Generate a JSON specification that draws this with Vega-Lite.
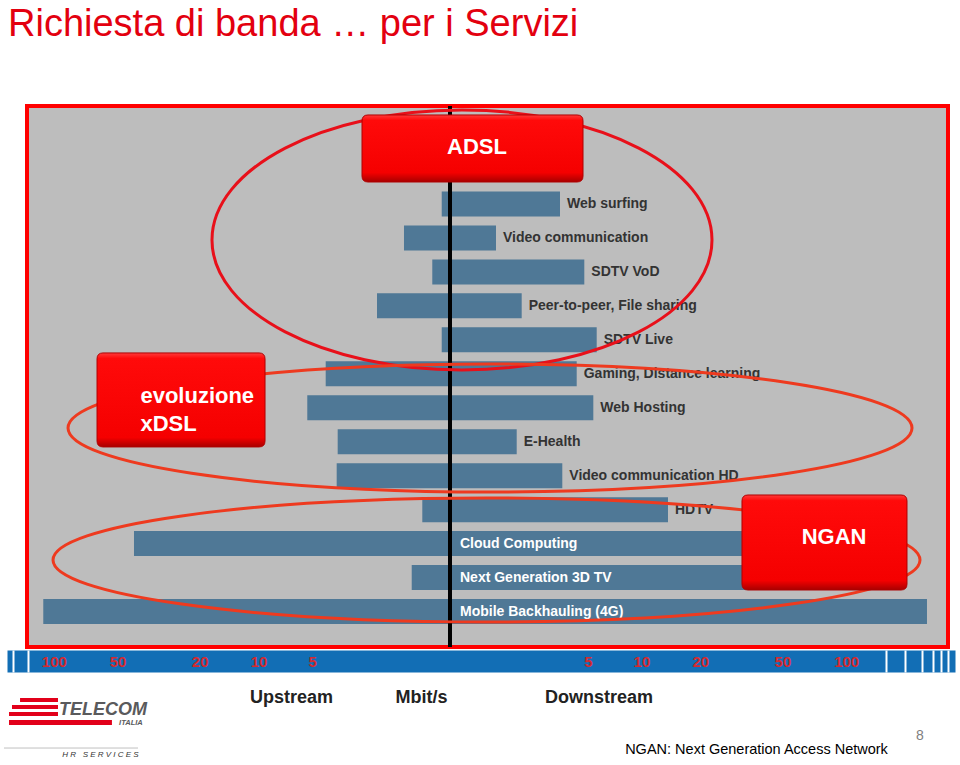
{
  "$schema": "https://vega.github.io/schema/vega-lite/v6.json",
  "width": 921,
  "height": 541,
  "autosize": "none",
  "padding": {"left": 27, "top": 106, "right": 12, "bottom": 118},
  "background": "white",
  "title": {
    "text": "Richiesta di banda … per i Servizi",
    "anchor": "start",
    "frame": "group",
    "offset": 60,
    "dx": -19,
    "font": "Liberation Sans",
    "fontSize": 38,
    "fontWeight": "normal",
    "color": "#e3000f"
  },
  "config": {
    "view": {"fill": "#bdbdbd", "stroke": "#ff0000", "strokeWidth": 4},
    "font": "Liberation Sans"
  },
  "data": {
    "values": [
      {"service": "Web surfing", "up": -0.138, "down": 3.334},
      {"service": "Video communication", "up": -0.947, "down": 0.947},
      {"service": "SDTV VoD", "up": -0.311, "down": 4.76},
      {"service": "Peer-to-peer, File sharing", "up": -1.761, "down": 1.716},
      {"service": "SDTV Live", "up": -0.138, "down": 5.643},
      {"service": "Gaming, Distance learning", "up": -4.128, "down": 4.274},
      {"service": "Web Hosting", "up": -5.346, "down": 5.39},
      {"service": "E-Health", "up": -3.454, "down": 1.55},
      {"service": "Video communication HD", "up": -3.507, "down": 3.454},
      {"service": "HDTV", "up": -0.514, "down": 13.75},
      {"service": "Cloud Computing", "up": -41.76, "down": 104.2},
      {"service": "Next Generation 3D TV", "up": -0.754, "down": 104.2},
      {"service": "Mobile Backhauling (4G)", "up": -112.05, "down": 238.3}
    ]
  },
  "resolve": {"axis": {"x": "independent"}},
  "layer": [
    {
      "mark": {"type": "bar", "color": "#4f7896"},
      "encoding": {
        "y": {
          "field": "service", "type": "nominal", "sort": null,
          "scale": {
            "domain": ["Web surfing", "Video communication", "SDTV VoD", "Peer-to-peer, File sharing", "SDTV Live", "Gaming, Distance learning", "Web Hosting", "E-Health", "Video communication HD", "HDTV", "Cloud Computing", "Next Generation 3D TV", "Mobile Backhauling (4G)"],
            "range": [81, 522.5],
            "paddingInner": 0.264,
            "paddingOuter": 0.132
          },
          "axis": null
        },
        "x": {
          "field": "up", "type": "quantitative",
          "scale": {"type": "symlog", "constant": 1.5, "domain": [-165.54, 321.56], "range": [-20, 928], "nice": false, "zero": false},
          "axis": {
            "orient": "bottom", "offset": 14,
            "values": [-100, 100],
            "domain": true, "domainColor": "#126eb5", "domainWidth": 22,
            "ticks": false, "tickSize": 0, "grid": false, "labels": false,
            "title": null
          }
        },
        "x2": {"field": "down"}
      }
    },
    {
      "data": {"values": [{}]},
      "mark": {"type": "rule", "color": "#000000", "strokeWidth": 4},
      "encoding": {
        "x": {
          "datum": 0, "type": "quantitative",
          "axis": {
            "orient": "bottom", "offset": 50,
            "values": [-6.64, -0.542, 5.78],
            "labelExpr": "datum.value < -1 ? 'Upstream' : (datum.value < 0 ? 'Mbit/s' : 'Downstream')",
            "domain": false, "ticks": false, "tickSize": 0, "grid": false,
            "labelPadding": 0, "labelBaseline": "middle",
            "labelColor": "#222222", "labelFont": "Liberation Sans", "labelFontSize": 18, "labelFontWeight": "bold",
            "labelOverlap": false, "labelFlush": false, "labelBound": false,
            "title": null
          }
        }
      }
    },
    {
      "transform": [{"filter": {"not": {"field": "service", "oneOf": ["Cloud Computing", "Next Generation 3D TV", "Mobile Backhauling (4G)"]}}}],
      "mark": {"type": "text", "align": "left", "baseline": "middle", "dx": 7, "font": "Liberation Sans", "fontSize": 14, "fontWeight": "bold", "color": "#333333"},
      "encoding": {
        "y": {"field": "service", "type": "nominal", "axis": null},
        "x": {
          "field": "down", "type": "quantitative",
          "axis": {
            "orient": "bottom", "offset": 3,
            "values": [-155.2, -132.1, 153.5, 188.2, 225.9, 254.1, 276.8, 298.4],
            "domain": false, "labels": false, "ticks": true,
            "tickColor": "#ffffff", "tickSize": 22, "tickWidth": 2, "grid": false,
            "title": null
          }
        },
        "text": {"field": "service"}
      }
    },
    {
      "transform": [{"filter": {"field": "service", "oneOf": ["Cloud Computing", "Next Generation 3D TV", "Mobile Backhauling (4G)"]}}],
      "mark": {"type": "text", "align": "left", "baseline": "middle", "dx": 10, "font": "Liberation Sans", "fontSize": 14, "fontWeight": "bold", "color": "#ffffff"},
      "encoding": {
        "y": {"field": "service", "type": "nominal", "axis": null},
        "x": {
          "datum": 0, "type": "quantitative",
          "axis": {
            "orient": "bottom", "offset": 14, "zindex": 1,
            "values": [-100, -50, -20, -10, -5, 5, 10, 20, 50, 100],
            "labelExpr": "'' + abs(datum.value)",
            "domain": false, "ticks": false, "tickSize": 0, "grid": false,
            "labelPadding": 0, "labelBaseline": "middle",
            "labelColor": "#d42a30", "labelFont": "Liberation Sans", "labelFontSize": 15, "labelFontWeight": "bold",
            "labelOverlap": false, "labelFlush": false, "labelBound": false,
            "title": null
          }
        },
        "text": {"field": "service"}
      }
    },
    {
      "data": {"values": [{}]},
      "mark": {"type": "point", "shape": "M-1,0C-1,-0.2872 -0.5523,-0.52 0,-0.52C0.5523,-0.52 1,-0.2872 1,0C1,0.2872 0.5523,0.52 0,0.52C-0.5523,0.52 -1,0.2872 -1,0Z", "size": 250000, "filled": false, "stroke": "#e8101a", "strokeWidth": 3, "opacity": 1, "yOffset": 36},
      "encoding": {
        "x": {"datum": 0.204, "type": "quantitative", "axis": null},
        "y": {"datum": "Web surfing", "type": "nominal", "axis": null}
      }
    },
    {
      "data": {"values": [{}]},
      "mark": {"type": "point", "shape": "M-1,0C-1,-0.0838 -0.5523,-0.1517 0,-0.1517C0.5523,-0.1517 1,-0.0838 1,0C1,0.0838 0.5523,0.1517 0,0.1517C-0.5523,0.1517 -1,0.0838 -1,0Z", "size": 712336, "filled": false, "stroke": "#ee3a1f", "strokeWidth": 3, "opacity": 1, "yOffset": -13.7},
      "encoding": {
        "x": {"datum": 0.796, "type": "quantitative", "axis": null},
        "y": {"datum": "E-Health", "type": "nominal", "axis": null}
      }
    },
    {
      "data": {"values": [{}]},
      "mark": {"type": "point", "shape": "M-1,0C-1,-0.079 -0.5523,-0.143 0,-0.143C0.5523,-0.143 1,-0.079 1,0C1,0.079 0.5523,0.143 0,0.143C-0.5523,0.143 -1,0.079 -1,0Z", "size": 751689, "filled": false, "stroke": "#ee3a1f", "strokeWidth": 3, "opacity": 1, "yOffset": 16.4},
      "encoding": {
        "x": {"datum": 0.712, "type": "quantitative", "axis": null},
        "y": {"datum": "Cloud Computing", "type": "nominal", "axis": null}
      }
    },
    {
      "data": {"values": [{}]},
      "mark": {
        "type": "point",
        "shape": "M-1,-0.2492Q-1,-0.3032 -0.946,-0.3032L0.946,-0.3032Q1,-0.3032 1,-0.2492L1,0.2492Q1,0.3032 0.946,0.3032L-0.946,0.3032Q-1,0.3032 -1,0.2492Z",
        "size": 48841, "filled": true, "opacity": 1,
        "fill": {"gradient": "linear", "x1": 0, "y1": 0, "x2": 0, "y2": 1, "stops": [{"offset": 0, "color": "#ff3a3a"}, {"offset": 0.08, "color": "#ff0a0a"}, {"offset": 0.86, "color": "#f50000"}, {"offset": 1, "color": "#a80000"}]},
        "stroke": "#b00000", "strokeWidth": 1, "yOffset": -55.5
      },
      "encoding": {
        "x": {"datum": 0.406, "type": "quantitative", "axis": null},
        "y": {"datum": "Web surfing", "type": "nominal", "axis": null}
      }
    },
    {
      "data": {"values": [{}]},
      "mark": {
        "type": "point",
        "shape": "M-1,-0.4881Q-1,-0.5595 -0.9286,-0.5595L0.9286,-0.5595Q1,-0.5595 1,-0.4881L1,0.4881Q1,0.5595 0.9286,0.5595L-0.9286,0.5595Q-1,0.5595 -1,0.4881Z",
        "size": 28224, "filled": true, "opacity": 1,
        "fill": {"gradient": "linear", "x1": 0, "y1": 0, "x2": 0, "y2": 1, "stops": [{"offset": 0, "color": "#ff3a3a"}, {"offset": 0.06, "color": "#ff0a0a"}, {"offset": 0.9, "color": "#f50000"}, {"offset": 1, "color": "#a80000"}]},
        "stroke": "#b00000", "strokeWidth": 1, "yOffset": -7.8
      },
      "encoding": {
        "x": {"datum": -24.73, "type": "quantitative", "axis": null},
        "y": {"datum": "Web Hosting", "type": "nominal", "axis": null}
      }
    },
    {
      "data": {"values": [{}]},
      "mark": {
        "type": "point",
        "shape": "M-1,-0.5031Q-1,-0.5758 -0.9273,-0.5758L0.9273,-0.5758Q1,-0.5758 1,-0.5031L1,0.5031Q1,0.5758 0.9273,0.5758L-0.9273,0.5758Q-1,0.5758 -1,0.5031Z",
        "size": 27225, "filled": true, "opacity": 1,
        "fill": {"gradient": "linear", "x1": 0, "y1": 0, "x2": 0, "y2": 1, "stops": [{"offset": 0, "color": "#ff3a3a"}, {"offset": 0.06, "color": "#ff0a0a"}, {"offset": 0.9, "color": "#f50000"}, {"offset": 1, "color": "#a80000"}]},
        "stroke": "#b00000", "strokeWidth": 1, "yOffset": -1.1
      },
      "encoding": {
        "x": {"datum": 79.1, "type": "quantitative", "axis": null},
        "y": {"datum": "Cloud Computing", "type": "nominal", "axis": null}
      }
    },
    {
      "data": {"values": [{}]},
      "mark": {"type": "text", "text": "ADSL", "align": "center", "baseline": "middle", "font": "Liberation Sans", "fontSize": 22, "fontWeight": "bold", "color": "#ffffff", "yOffset": -57},
      "encoding": {
        "x": {"datum": 0.499, "type": "quantitative", "axis": null},
        "y": {"datum": "Web surfing", "type": "nominal", "axis": null}
      }
    },
    {
      "data": {"values": [{}]},
      "mark": {"type": "text", "text": ["evoluzione", "xDSL"], "lineHeight": 28, "align": "left", "baseline": "middle", "font": "Liberation Sans", "fontSize": 22, "fontWeight": "bold", "color": "#ffffff", "yOffset": -12},
      "encoding": {
        "x": {"datum": -38.9, "type": "quantitative", "axis": null},
        "y": {"datum": "Web Hosting", "type": "nominal", "axis": null}
      }
    },
    {
      "data": {"values": [{}]},
      "mark": {"type": "text", "text": "NGAN", "align": "center", "baseline": "middle", "font": "Liberation Sans", "fontSize": 22, "fontWeight": "bold", "color": "#ffffff", "yOffset": -6.6},
      "encoding": {
        "x": {"datum": 87.7, "type": "quantitative", "axis": null},
        "y": {"datum": "Cloud Computing", "type": "nominal", "axis": null}
      }
    },
    {
      "data": {"values": [{}]},
      "mark": {"type": "text", "text": "NGAN: Next Generation Access Network", "align": "center", "baseline": "middle", "font": "Liberation Sans", "fontSize": 14.5, "color": "#000000", "yOffset": 138.5},
      "encoding": {
        "x": {"datum": 37.6, "type": "quantitative", "axis": null},
        "y": {"datum": "Mobile Backhauling (4G)", "type": "nominal", "axis": null}
      }
    },
    {
      "data": {"values": [{}]},
      "mark": {"type": "text", "text": "8", "align": "center", "baseline": "middle", "font": "Liberation Sans", "fontSize": 14, "color": "#808080", "yOffset": 124.5},
      "encoding": {
        "x": {"datum": 221.1, "type": "quantitative", "axis": null},
        "y": {"datum": "Mobile Backhauling (4G)", "type": "nominal", "axis": null}
      }
    },
    {
      "data": {"values": [{}]},
      "mark": {"type": "rule", "color": "#e2001a", "strokeWidth": 4, "yOffset": 88.5},
      "encoding": {
        "x": {"datum": -143.9, "type": "quantitative", "axis": null},
        "x2": {"datum": -95.6},
        "y": {"datum": "Mobile Backhauling (4G)", "type": "nominal", "axis": null}
      }
    },
    {
      "data": {"values": [{}]},
      "mark": {"type": "rule", "color": "#e2001a", "strokeWidth": 4, "yOffset": 95.5},
      "encoding": {
        "x": {"datum": -156.9, "type": "quantitative", "axis": null},
        "x2": {"datum": -95.6},
        "y": {"datum": "Mobile Backhauling (4G)", "type": "nominal", "axis": null}
      }
    },
    {
      "data": {"values": [{}]},
      "mark": {"type": "rule", "color": "#e2001a", "strokeWidth": 4, "yOffset": 102.5},
      "encoding": {
        "x": {"datum": -162.0, "type": "quantitative", "axis": null},
        "x2": {"datum": -95.6},
        "y": {"datum": "Mobile Backhauling (4G)", "type": "nominal", "axis": null}
      }
    },
    {
      "data": {"values": [{}]},
      "mark": {"type": "rule", "color": "#e2001a", "strokeWidth": 5, "yOffset": 111},
      "encoding": {
        "x": {"datum": -162.0, "type": "quantitative", "axis": null},
        "x2": {"datum": -53.2},
        "y": {"datum": "Mobile Backhauling (4G)", "type": "nominal", "axis": null}
      }
    },
    {
      "data": {"values": [{}]},
      "mark": {"type": "text", "text": "TELECOM", "align": "center", "baseline": "middle", "font": "Liberation Sans", "fontSize": 18, "fontWeight": "bold", "fontStyle": "italic", "color": "#5a5a5c", "yOffset": 98},
      "encoding": {
        "x": {"datum": -58.6, "type": "quantitative", "axis": null},
        "y": {"datum": "Mobile Backhauling (4G)", "type": "nominal", "axis": null}
      }
    },
    {
      "data": {"values": [{}]},
      "mark": {"type": "text", "text": "ITALIA", "align": "center", "baseline": "middle", "font": "Liberation Sans", "fontSize": 7.5, "fontWeight": "bold", "fontStyle": "italic", "color": "#5a5a5c", "yOffset": 111.5},
      "encoding": {
        "x": {"datum": -43.2, "type": "quantitative", "axis": null},
        "y": {"datum": "Mobile Backhauling (4G)", "type": "nominal", "axis": null}
      }
    },
    {
      "data": {"values": [{}]},
      "mark": {"type": "rule", "color": "#c0c0c0", "strokeWidth": 1, "yOffset": 136.5},
      "encoding": {
        "x": {"datum": -171.0, "type": "quantitative", "axis": null},
        "x2": {"datum": -39.96},
        "y": {"datum": "Mobile Backhauling (4G)", "type": "nominal", "axis": null}
      }
    },
    {
      "data": {"values": [{}]},
      "mark": {"type": "text", "text": "H\u00a0R\u00a0\u00a0\u00a0S\u00a0E\u00a0R\u00a0V\u00a0I\u00a0C\u00a0E\u00a0S", "align": "center", "baseline": "middle", "font": "Liberation Sans", "fontSize": 8, "fontStyle": "italic", "color": "#333333", "yOffset": 143.5},
      "encoding": {
        "x": {"datum": -60.3, "type": "quantitative", "axis": null},
        "y": {"datum": "Mobile Backhauling (4G)", "type": "nominal", "axis": null}
      }
    }
  ]
}
